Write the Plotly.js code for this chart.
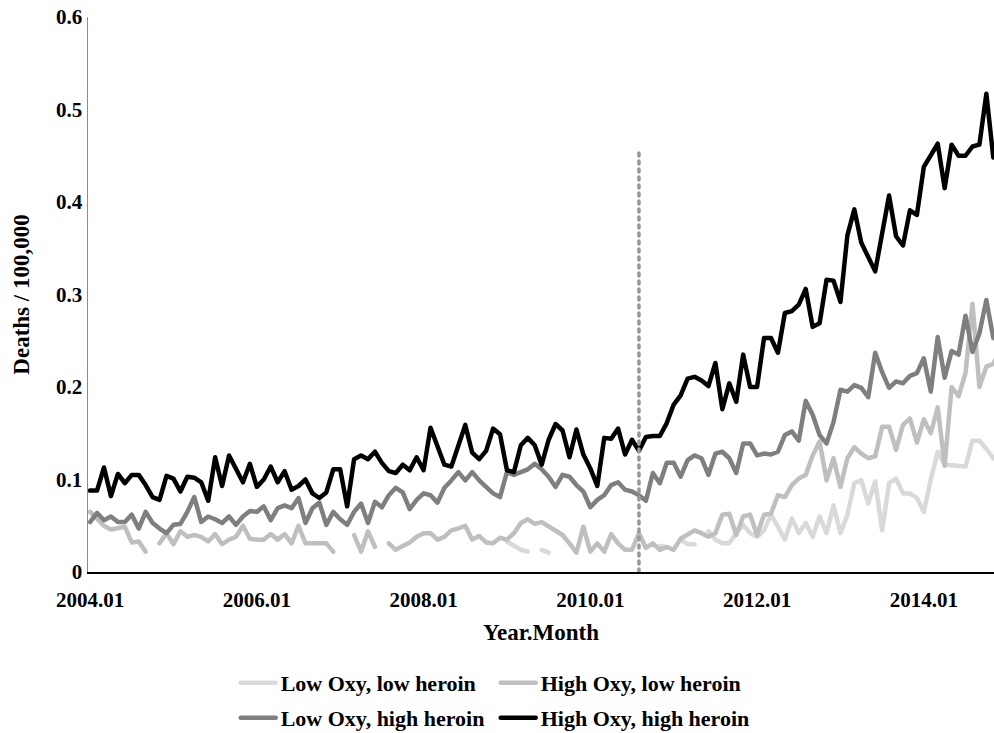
<!DOCTYPE html>
<html>
<head>
<meta charset="utf-8">
<script src="https://cdn.plot.ly/plotly-3.0.1.min.js"></script>
<style>
  html, body { margin: 0; padding: 0; background: #ffffff; }
  #chart { width: 994px; height: 733px; }
  .js-line { stroke-linejoin: round; stroke-linecap: round; }
</style>
</head>
<body>
<div id="chart"></div>
<script>
// ---- Data ----
const years = [2004, 2005, 2006, 2007, 2008, 2009, 2010, 2011, 2012, 2013, 2014];
const monthCodes = ['01','02','03','04','05','06','07','08','09','10','11','12'];
const categories = [];
years.forEach(function (y) { monthCodes.forEach(function (m) { categories.push(y + '.' + m); }); });

const tickLabels = ['2004.01', '2006.01', '2008.01', '2010.01', '2012.01', '2014.01'];

const seriesNames = ['Low Oxy, low heroin', 'High Oxy, low heroin', 'Low Oxy, high heroin', 'High Oxy, high heroin'];

const lowOxyLowHeroin = [
  null,null,null,null,null,null,null,null,null,null,null,null,
  null,null,null,null,null,null,null,null,null,null,null,null,
  null,null,null,null,null,null,null,null,null,null,null,null,
  null,null,null,null,null,null,null,null,null,null,null,null,
  null,null,null,null,null,null,null,null,null,null,null,null,
  0.033,0.028,0.024,0.022,null,0.024,0.021,null,null,null,null,null,
  null,null,null,null,null,null,null,null,null,null,0.028,0.027,
  null,0.035,0.030,0.030,null,0.044,0.035,0.031,0.031,0.042,0.051,0.042,
  0.038,0.045,0.062,0.049,0.035,0.058,0.042,0.053,0.038,0.060,0.042,0.072,
  0.042,0.062,0.096,0.099,0.074,0.098,0.045,0.096,0.101,0.085,0.085,0.080,
  0.065,0.100,0.130,0.116,0.115,0.114,0.114,0.142,0.142,0.133,0.123,0.120
];

const highOxyLowHeroin = [
  0.065,0.057,0.050,0.046,0.047,0.049,0.032,0.033,0.022,null,0.031,0.042,
  0.030,0.044,0.038,0.040,0.038,0.033,0.041,0.030,0.035,0.038,0.050,0.036,
  0.035,0.035,0.041,0.035,0.041,0.031,0.050,0.031,0.031,0.031,0.031,0.022,
  null,null,0.040,0.022,0.044,0.027,null,0.031,0.024,0.028,0.032,0.038,
  0.042,0.042,0.035,0.038,0.045,0.047,0.050,0.035,0.039,0.032,0.031,0.037,
  0.035,0.042,0.053,0.057,0.052,0.054,0.049,0.045,0.040,0.031,0.021,0.049,
  0.022,0.031,0.022,0.041,0.031,0.024,0.024,0.042,0.026,0.031,0.024,0.027,
  0.024,0.036,0.041,0.045,0.042,0.038,0.042,0.062,0.063,0.040,0.060,0.062,
  0.040,0.062,0.063,0.083,0.081,0.094,0.101,0.105,0.126,0.141,0.099,0.123,
  0.092,0.123,0.135,0.128,0.123,0.125,0.157,0.157,0.132,0.159,0.166,0.140,
  0.165,0.150,0.178,0.115,0.200,0.190,0.215,0.290,0.200,0.222,0.225,0.240
];

const lowOxyHighHeroin = [
  0.054,0.064,0.056,0.060,0.054,0.054,0.062,0.047,0.065,0.053,0.047,0.042,
  0.051,0.052,0.065,0.081,0.054,0.060,0.057,0.053,0.060,0.051,0.060,0.066,
  0.065,0.071,0.056,0.069,0.072,0.069,0.080,0.053,0.069,0.075,0.051,0.065,
  0.057,0.051,0.065,0.074,0.053,0.076,0.070,0.083,0.091,0.086,0.068,0.078,
  0.085,0.083,0.075,0.091,0.099,0.108,0.099,0.108,0.099,0.092,0.085,0.081,
  0.108,0.105,0.108,0.111,0.117,0.111,0.103,0.092,0.105,0.103,0.094,0.087,
  0.070,0.078,0.083,0.094,0.097,0.089,0.087,0.083,0.077,0.107,0.096,0.118,
  0.118,0.103,0.121,0.126,0.123,0.105,0.128,0.130,0.123,0.107,0.139,0.139,
  0.126,0.128,0.127,0.130,0.148,0.152,0.142,0.185,0.170,0.148,0.139,0.162,
  0.197,0.195,0.202,0.199,0.189,0.237,0.216,0.199,0.206,0.204,0.212,0.215,
  0.231,0.195,0.254,0.210,0.239,0.235,0.277,0.238,0.258,0.294,0.253,0.250
];

const highOxyHighHeroin = [
  0.088,0.088,0.113,0.082,0.106,0.096,0.105,0.105,0.094,0.081,0.078,0.104,
  0.101,0.087,0.103,0.102,0.097,0.077,0.124,0.093,0.126,0.111,0.097,0.117,
  0.092,0.100,0.114,0.097,0.109,0.089,0.093,0.100,0.085,0.080,0.086,0.111,
  0.111,0.071,0.122,0.126,0.122,0.130,0.118,0.109,0.107,0.116,0.110,0.124,
  0.110,0.156,0.137,0.116,0.114,0.137,0.159,0.129,0.122,0.131,0.155,0.149,
  0.110,0.108,0.137,0.145,0.137,0.116,0.143,0.160,0.153,0.124,0.154,0.127,
  0.112,0.093,0.145,0.144,0.155,0.127,0.143,0.131,0.146,0.147,0.147,0.161,
  0.181,0.191,0.209,0.211,0.207,0.201,0.226,0.176,0.204,0.184,0.235,0.200,
  0.200,0.253,0.253,0.237,0.280,0.282,0.289,0.306,0.265,0.269,0.316,0.315,
  0.292,0.364,0.392,0.356,0.341,0.325,0.366,0.407,0.363,0.353,0.391,0.386,
  0.438,0.451,0.463,0.415,0.462,0.450,0.450,0.460,0.462,0.517,0.448,0.480
];

const markerMonth = '2010.08';
const markerLabel = '8/2010';
const markerTop = 0.455;

// ---- Styles ----
const FONT = 'Liberation Serif, Times New Roman, serif';
const colors = ['#d9d9d9', '#bfbfbf', '#7f7f7f', '#000000'];
const seriesData = [lowOxyLowHeroin, highOxyLowHeroin, lowOxyHighHeroin, highOxyHighHeroin];
const legendIds = ['legend', 'legend', 'legend2', 'legend2'];

const traces = seriesData.map(function (vals, k) {
  return {
    type: 'scatter', mode: 'lines',
    x: categories, y: vals,
    name: seriesNames[k],
    legend: legendIds[k],
    connectgaps: false,
    line: { color: colors[k], width: 4.5 },
    hoverinfo: 'skip'
  };
});

traces.push({
  type: 'scatter', mode: 'lines',
  x: [markerMonth, markerMonth], y: [0, markerTop],
  showlegend: false, hoverinfo: 'skip',
  line: { color: '#999999', width: 3.5, dash: '3px,5px' }
});

const tickFont = { family: FONT, size: 21, color: '#000', weight: 'bold' };
const titleFont = { family: FONT, size: 23, color: '#000', weight: 'bold' };
const legendFont = { family: FONT, size: 22, color: '#000', weight: 'bold' };

const layout = {
  width: 994, height: 733,
  margin: { l: 88, r: 0, t: 17, b: 161, autoexpand: false },
  paper_bgcolor: '#ffffff', plot_bgcolor: '#ffffff',
  font: { family: FONT, size: 21, color: '#000', weight: 'bold' },
  showlegend: true,
  xaxis: {
    type: 'category',
    range: [-0.3, 130.1],
    tickmode: 'array', tickvals: tickLabels, ticktext: tickLabels,
    ticks: '', showgrid: false, zeroline: false,
    showline: true, linecolor: '#000000', linewidth: 1.5,
    tickfont: tickFont, ticklabelstandoff: 8,
    title: { text: 'Year.Month', font: titleFont, standoff: 13 }
  },
  yaxis: {
    range: [0, 0.6], tick0: 0, dtick: 0.1,
    ticks: '', showgrid: false, zeroline: false,
    showline: true, linecolor: '#8c8c8c', linewidth: 1.5,
    tickfont: tickFont,
    title: { text: 'Deaths / 100,000', font: titleFont, standoff: 20 }
  },
  annotations: [{
    xref: 'x', yref: 'y', x: markerMonth, y: markerTop,
    text: markerLabel, showarrow: false, yanchor: 'bottom', yshift: 8,
    font: tickFont
  }],
  legend: {
    orientation: 'h', x: 0.163, xanchor: 'left', y: -0.2, yanchor: 'middle',
    entrywidth: 210, entrywidthmode: 'pixels', itemwidth: 35,
    font: legendFont, bgcolor: 'rgba(0,0,0,0)', tracegroupgap: 0
  },
  legend2: {
    orientation: 'h', x: 0.163, xanchor: 'left', y: -0.263, yanchor: 'middle',
    entrywidth: 210, entrywidthmode: 'pixels', itemwidth: 35,
    font: legendFont, bgcolor: 'rgba(0,0,0,0)', tracegroupgap: 0
  }
};

Plotly.newPlot('chart', traces, layout, { displayModeBar: false, responsive: false, staticPlot: true });
</script>
</body>
</html>
